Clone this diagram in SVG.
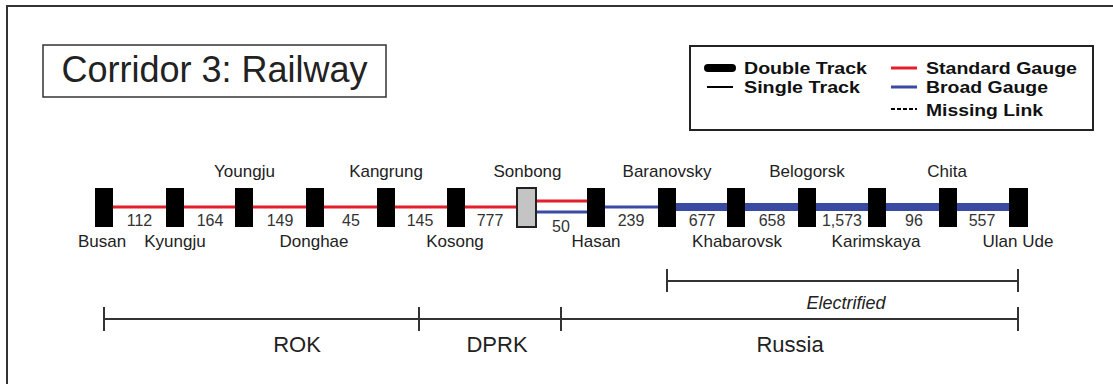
<svg xmlns="http://www.w3.org/2000/svg" width="1113" height="384" viewBox="0 0 1113 384">
<style>
text{font-family:"Liberation Sans",Arial,sans-serif;fill:#222}
.nm{font-size:17px;text-anchor:middle}
.km{font-size:16px;text-anchor:middle;fill:#333}
.lg{font-size:16.5px;font-weight:bold;fill:#111}
.st{fill:#000}
.red{stroke:#e31f2b;stroke-width:3;fill:none}
.blue{stroke:#3a4aa3;stroke-width:3;fill:none}
.bluew{stroke:#3a4aa3;stroke-width:8;fill:none}
.br{stroke:#333;stroke-width:2;fill:none}
</style>
<rect x="0" y="0" width="1113" height="384" fill="#fff"/>
<rect x="7" y="6" width="1130" height="400" fill="none" stroke="#333" stroke-width="2"/>
<g id="title">
<rect x="43" y="45" width="343" height="52" fill="#fff" stroke="#333" stroke-width="1.5"/>
<text x="214.5" y="82" font-size="36" text-anchor="middle" fill="#111">Corridor 3: Railway</text>
</g>
<g id="legend">
<rect x="690" y="46" width="403" height="84" fill="#fff" stroke="#222" stroke-width="2"/>
<line x1="708" y1="68" x2="732" y2="68" stroke="#000" stroke-width="8" stroke-linecap="round"/>
<text class="lg" x="744" y="74" textLength="123" lengthAdjust="spacingAndGlyphs">Double Track</text>
<line x1="707" y1="87" x2="733" y2="87" stroke="#000" stroke-width="2"/>
<text class="lg" x="744" y="93" textLength="116" lengthAdjust="spacingAndGlyphs">Single Track</text>
<line x1="891" y1="68" x2="917" y2="68" class="red"/>
<text class="lg" x="926" y="74" textLength="151" lengthAdjust="spacingAndGlyphs">Standard Gauge</text>
<line x1="891" y1="87" x2="917" y2="87" class="blue"/>
<text class="lg" x="926" y="93" textLength="122" lengthAdjust="spacingAndGlyphs">Broad Gauge</text>
<line x1="891" y1="109" x2="917" y2="109" stroke="#000" stroke-width="2" stroke-dasharray="4,2"/>
<text class="lg" x="926" y="116" textLength="117" lengthAdjust="spacingAndGlyphs">Missing Link</text>
</g>
<g id="connectors">
<line class="red" x1="113" y1="207" x2="166" y2="207"/>
<line class="red" x1="184" y1="207" x2="235" y2="207"/>
<line class="red" x1="253" y1="207" x2="306" y2="207"/>
<line class="red" x1="324" y1="207" x2="377" y2="207"/>
<line class="red" x1="395" y1="207" x2="447" y2="207"/>
<line class="red" x1="465" y1="207" x2="516" y2="207"/>
<line class="red" x1="536" y1="201" x2="587" y2="201"/>
<line class="blue" x1="536" y1="212" x2="587" y2="212"/>
<line class="blue" x1="605" y1="207" x2="658" y2="207"/>
<line class="bluew" x1="676" y1="207" x2="727" y2="207"/>
<line class="bluew" x1="745" y1="207" x2="798" y2="207"/>
<line class="bluew" x1="816" y1="207" x2="868" y2="207"/>
<line class="bluew" x1="886" y1="207" x2="939" y2="207"/>
<line class="bluew" x1="957" y1="207" x2="1009" y2="207"/>
<text class="km" x="139.5" y="226">112</text>
<text class="km" x="210" y="226">164</text>
<text class="km" x="280" y="226">149</text>
<text class="km" x="351" y="226">45</text>
<text class="km" x="420" y="226">145</text>
<text class="km" x="490" y="226">777</text>
<text class="km" x="561" y="232">50</text>
<text class="km" x="631" y="226">239</text>
<text class="km" x="702" y="226">677</text>
<text class="km" x="772" y="226">658</text>
<text class="km" x="842" y="226">1,573</text>
<text class="km" x="914" y="226">96</text>
<text class="km" x="982" y="226">557</text>
</g>
<g id="busan"><rect class="st" x="95" y="188" width="18" height="39"/><text class="nm" x="102" y="247">Busan</text></g>
<g id="kyungju"><rect class="st" x="166" y="188" width="18" height="39"/><text class="nm" x="175" y="247">Kyungju</text></g>
<g id="youngju"><rect class="st" x="235" y="188" width="18" height="39"/><text class="nm" x="244.5" y="177">Youngju</text></g>
<g id="donghae"><rect class="st" x="306" y="188" width="18" height="39"/><text class="nm" x="314" y="247">Donghae</text></g>
<g id="kangrung"><rect class="st" x="377" y="188" width="18" height="39"/><text class="nm" x="386" y="177">Kangrung</text></g>
<g id="kosong"><rect class="st" x="447" y="188" width="18" height="39"/><text class="nm" x="455" y="247">Kosong</text></g>
<g id="sonbong"><rect x="517" y="188" width="19" height="39" fill="#c4c4c4" stroke="#222" stroke-width="2"/><text class="nm" x="527.5" y="177">Sonbong</text></g>
<g id="hasan"><rect class="st" x="587" y="188" width="18" height="39"/><text class="nm" x="596" y="247">Hasan</text></g>
<g id="baranovsky"><rect class="st" x="658" y="188" width="18" height="39"/><text class="nm" x="667" y="177">Baranovsky</text></g>
<g id="khabarovsk"><rect class="st" x="727" y="188" width="18" height="39"/><text class="nm" x="737" y="247">Khabarovsk</text></g>
<g id="belogorsk"><rect class="st" x="798" y="188" width="18" height="39"/><text class="nm" x="807" y="177">Belogorsk</text></g>
<g id="karimskaya"><rect class="st" x="868" y="188" width="18" height="39"/><text class="nm" x="876" y="247">Karimskaya</text></g>
<g id="chita"><rect class="st" x="939" y="188" width="18" height="39"/><text class="nm" x="947" y="177">Chita</text></g>
<g id="ulanude"><rect class="st" x="1009" y="188" width="19" height="39"/><text class="nm" x="1018" y="247">Ulan Ude</text></g>
<g id="electrified">
<line class="br" x1="667" y1="281" x2="1018" y2="281"/>
<line class="br" x1="667" y1="269" x2="667" y2="292"/>
<line class="br" x1="1018" y1="269" x2="1018" y2="292"/>
<text x="846" y="309" font-size="18" font-style="italic" text-anchor="middle">Electrified</text>
</g>
<g id="countries">
<line class="br" x1="104" y1="319" x2="1018" y2="319"/>
<line class="br" x1="104" y1="307" x2="104" y2="331"/>
<line class="br" x1="419" y1="307" x2="419" y2="331"/>
<line class="br" x1="561" y1="307" x2="561" y2="331"/>
<line class="br" x1="1018" y1="307" x2="1018" y2="331"/>
<text x="297" y="352" font-size="22" text-anchor="middle">ROK</text>
<text x="497" y="352" font-size="22" text-anchor="middle">DPRK</text>
<text x="790" y="352" font-size="22" text-anchor="middle">Russia</text>
</g>
</svg>
